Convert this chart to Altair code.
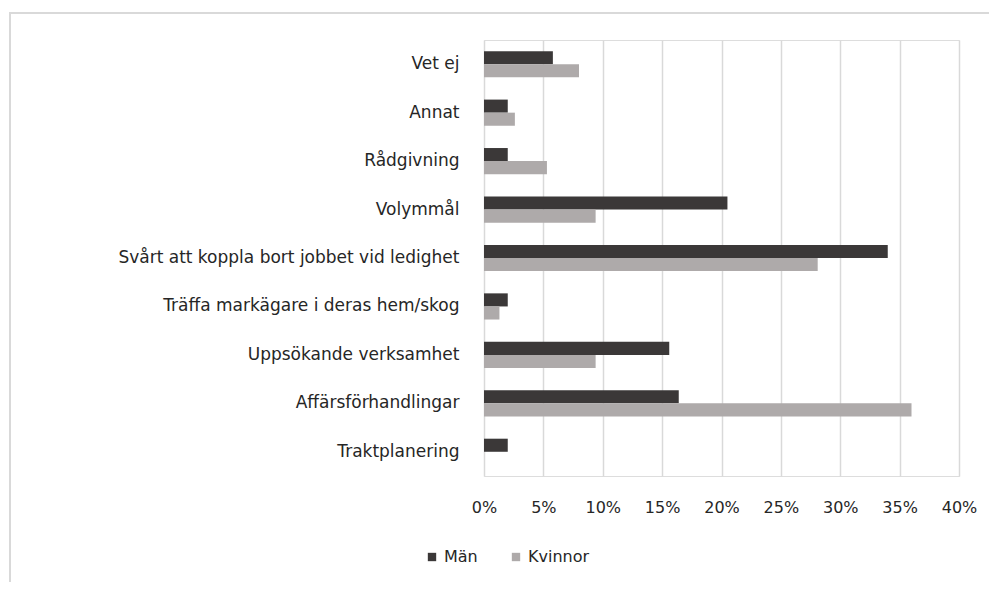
import altair as alt
import pandas as pd

categories = [
    "Vet ej",
    "Annat",
    "Rådgivning",
    "Volymmål",
    "Svårt att koppla bort jobbet vid ledighet",
    "Träffa markägare i deras hem/skog",
    "Uppsökande verksamhet",
    "Affärsförhandlingar",
    "Traktplanering",
]
series = ["Män", "Kvinnor"]
man_values = [5.8, 2.0, 2.0, 20.5, 34.0, 2.0, 15.6, 16.4, 2.0]
kvinnor_values = [8.0, 2.6, 5.3, 9.4, 28.1, 1.3, 9.4, 36.0, 0.0]
x_ticks = [0, 0.05, 0.10, 0.15, 0.20, 0.25, 0.30, 0.35, 0.40]
colors = ["#3b3838", "#aeaaaa"]

rows = []
for c, m, k in zip(categories, man_values, kvinnor_values):
    rows.append({"kategori": c, "kön": "Män", "andel": m / 100})
    rows.append({"kategori": c, "kön": "Kvinnor", "andel": k / 100})
df = pd.DataFrame(rows)

FONT = "DejaVu Sans"
TXT = "#262626"

one = alt.Data(values=[{"a": 1}])
border_top = alt.Chart(one).mark_rule(color="#d9d9d9", strokeWidth=2).encode(
    x=alt.value(-475), x2=alt.value(600), y=alt.value(-27)
)
border_left = alt.Chart(one).mark_rule(color="#d9d9d9", strokeWidth=2).encode(
    x=alt.value(-474), y=alt.value(-28), y2=alt.value(600)
)

bars = alt.Chart(df).mark_bar().encode(
    y=alt.Y(
        "kategori:N",
        sort=categories,
        scale=alt.Scale(paddingInner=0.46, paddingOuter=0.23),
        axis=alt.Axis(
            title=None, domain=False, ticks=False, grid=False,
            labelFont=FONT, labelFontSize=17, labelColor=TXT,
            labelPadding=25, labelLimit=500,
        ),
    ),
    yOffset=alt.YOffset("kön:N", sort=series),
    x=alt.X(
        "andel:Q",
        scale=alt.Scale(domain=[0, 0.4], nice=False),
        axis=alt.Axis(
            title=None, values=x_ticks, format=".0%", domain=False, ticks=False,
            grid=True, gridColor="#d9d9d9", gridWidth=1.5,
            labelFont=FONT, labelFontSize=16, labelColor=TXT,
            labelPadding=23, labelFlush=False,
        ),
    ),
    color=alt.Color(
        "kön:N",
        sort=series,
        scale=alt.Scale(domain=series, range=colors),
        legend=alt.Legend(
            title=None, orient="none", direction="horizontal",
            legendX=-60, legendY=509, symbolType="square", symbolSize=70,
            symbolStrokeWidth=0, labelFont=FONT, labelFontSize=16,
            labelColor=TXT, columnPadding=30, labelOffset=4,
        ),
    ),
)

chart = alt.layer(border_top, border_left, bars).properties(
    width=475, height=436,
    autosize=alt.AutoSizeParams(type="none"),
    padding={"left": 476, "top": 32, "right": 30, "bottom": 106},
).configure_view(stroke=None).configure(background="white")

chart.save("out.html", embed_options={"renderer": "svg", "actions": False})
